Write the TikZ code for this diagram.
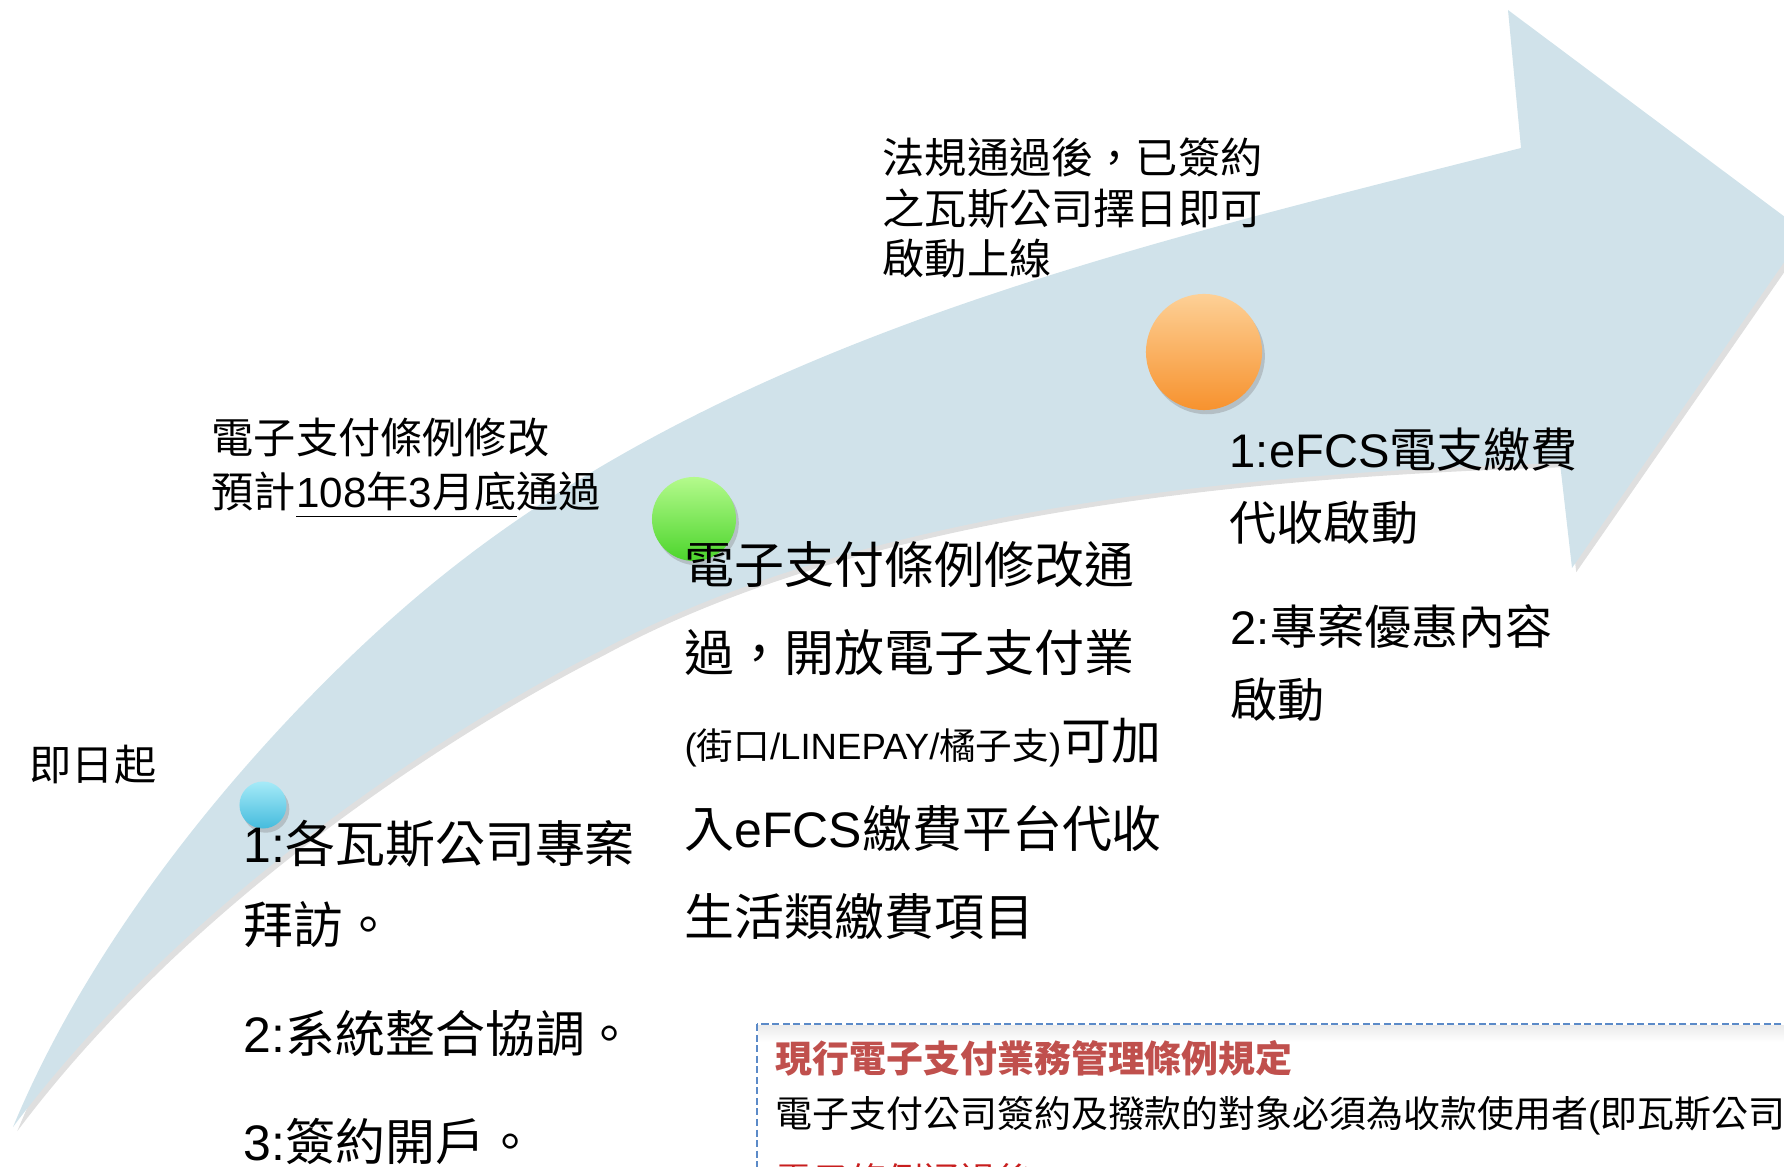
\documentclass[tikz,border=0pt]{standalone}
\usepackage{fontspec}
\setmainfont{Noto Sans CJK TC}
\newfontfamily\en{Liberation Sans}
\usetikzlibrary{shadows}
\definecolor{arrowblue}{HTML}{D0E2EA}
\definecolor{boxblue}{HTML}{5B8AC8}
\definecolor{titlered}{HTML}{C0504D}
\definecolor{linered}{HTML}{C81E1E}
\newcommand{\smallfont}{\fontsize{10.4pt}{25pt}\selectfont}
\tikzset{
  ball/.style={circle, inner sep=0pt, draw=none, drop shadow={shadow xshift=0.8pt, shadow yshift=-1.2pt, opacity=0.35}},
  note/.style={anchor=base west, inner sep=0pt, align=left, font=\fontsize{12pt}{14.5pt}\selectfont},
  item/.style={anchor=base west, inner sep=0pt, align=left, font=\fontsize{14.2pt}{22.8pt}\selectfont},
  boxtext/.style={anchor=base west, inner sep=0pt, font=\fontsize{10.5pt}{13pt}\selectfont},
}
\begin{document}
\begin{tikzpicture}[x=0.01cm, y=-0.01cm]
\useasboundingbox (0,0) rectangle (1784,1167);
\clip (0,0) rectangle (1784,1167);
% curved arrow
\fill[arrowblue, drop shadow={shadow xshift=1.2pt, shadow yshift=-1.2pt, opacity=0.25}] (13,1127)
  .. controls (109,896) and (299,697) .. (413,600)
  .. controls (717,340) and (1133,247) .. (1521,148)
  -- (1508,10) -- (1805,232) -- (1572,568) -- (1560,463)
  .. controls (1260,472) and (867,506) .. (600,651)
  .. controls (466,719) and (193,887) .. (13,1127) -- cycle;
% milestones
\node[ball, minimum size=0.47cm, top color={rgb,255:red,166;green,234;blue,248}, bottom color={rgb,255:red,69;green,188;blue,221}] (cyan) at (263,805) {};
\node[ball, minimum size=0.84cm, top color={rgb,255:red,180;green,250;blue,140}, bottom color={rgb,255:red,76;green,213;blue,44}] (green) at (694,519) {};
\node[ball, minimum size=1.16cm, top color={rgb,255:red,253;green,208;blue,150}, bottom color={rgb,255:red,247;green,146;blue,46}] (orange) at (1204,352) {};
% labels above the arrow (multi-line nodes sit on their last baseline)
\node[note] (start) at (29,781) {即日起};
\node[note, font=\fontsize{12pt}{15.4pt}\selectfont] (law) at (211,508) {電子支付條例修改\\預計\underline{{\en 108}年{\en 3}月底}通過};
\node[note] (online) at (882,275) {法規通過後，已簽約\\之瓦斯公司擇日即可\\啟動上線};
% items below the arrow
\node[item] (s1) at (243,943) {{\en 1:}各瓦斯公司專案\\拜訪。};
\node[item] (s2) at (243,1052) {{\en 2:}系統整合協調。};
\node[item] (s3) at (243,1160) {{\en 3:}簽約開戶。};
\node[item, font=\fontsize{14.2pt}{25pt}\selectfont] (m1) at (684,935) {電子支付條例修改通\\過，開放電子支付業\\{\smallfont{\en(}街口{\en/LINEPAY/}橘子支{\en)}}可加\\入{\en eFCS}繳費平台代收\\生活類繳費項目};
\node[item, font=\fontsize{13.4pt}{21pt}\selectfont] (e1) at (1229,541) {{\en 1:eFCS}電支繳費\\代收啟動};
\node[item, font=\fontsize{13.4pt}{21pt}\selectfont] (e2) at (1230,718) {{\en 2:}專案優惠內容\\啟動};
% rule box
\fill[white] (757,1024) rectangle (1800,1200);
\shade[top color=black!8, bottom color=white] (758,1025) rectangle (1800,1042);
\draw[boxblue, line width=0.8pt, dash pattern=on 2pt off 1pt] (757,1024) rectangle (1800,1200);
\node[boxtext, titlered, font=\fontsize{10.5pt}{13pt}\selectfont\bfseries] (rule) at (775,1072) {現行電子支付業務管理條例規定};
\node[boxtext] (rulebody) at (775,1127) {電子支付公司簽約及撥款的對象必須為收款使用者{\en(}即瓦斯公司};
\node[boxtext, linered] (rulenext) at (775,1194) {電子條例通過後};
\end{tikzpicture}
\end{document}
